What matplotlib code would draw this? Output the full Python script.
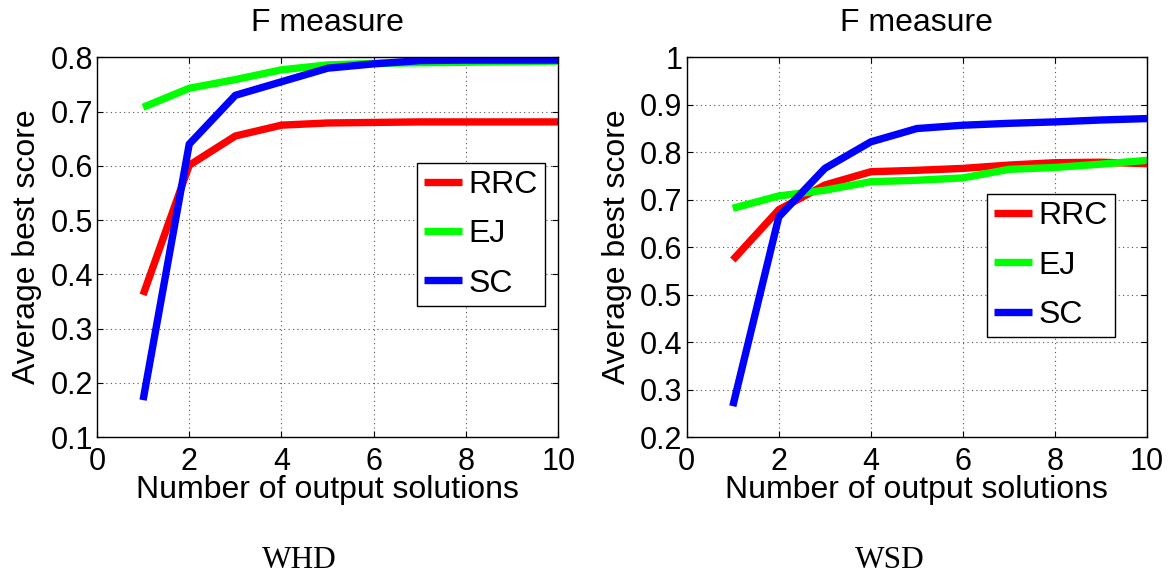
import numpy as np
import matplotlib
matplotlib.use("Agg")
import matplotlib.pyplot as plt

plt.rcParams['font.family'] = ['Liberation Sans', 'DejaVu Sans']

# number of output solutions
n_out = [1, 2, 3, 4, 5, 6, 7, 8, 9, 10]

# WHD panel
whd_rrc = [0.362, 0.601, 0.655, 0.675, 0.679, 0.680, 0.681, 0.681, 0.681, 0.681]
whd_ej = [0.708, 0.743, 0.759, 0.777, 0.786, 0.789, 0.790, 0.791, 0.792, 0.793]
whd_sc = [0.168, 0.640, 0.730, 0.755, 0.780, 0.788, 0.794, 0.795, 0.795, 0.795]

# WSD panel
wsd_rrc = [0.573, 0.679, 0.731, 0.759, 0.762, 0.766, 0.773, 0.778, 0.779, 0.776]
wsd_ej = [0.682, 0.708, 0.720, 0.738, 0.741, 0.746, 0.764, 0.768, 0.775, 0.783]
wsd_sc = [0.265, 0.664, 0.766, 0.822, 0.850, 0.857, 0.861, 0.864, 0.868, 0.871]

names = ['RRC', 'EJ', 'SC']
colors = ['#ff0000', '#00ff00', '#0000ff']

fig = plt.figure(figsize=(11.68, 5.77), dpi=100)
ax1 = fig.add_axes([0.083, 0.2426, 0.395, 0.658])
ax2 = fig.add_axes([0.588, 0.2426, 0.394, 0.658])


def panel(ax, series, ylim, yticks, ylabels, legend_anchor):
    for s, name, c in zip(series, names, colors):
        ax.plot(n_out, s, color=c, lw=5.3, label=name, solid_capstyle='butt')
    ax.set_xlim(0, 10)
    ax.set_ylim(*ylim)
    ax.set_xticks([0, 2, 4, 6, 8, 10])
    ax.set_yticks(yticks)
    ax.set_yticklabels(ylabels)
    ax.tick_params(direction='in', top=True, right=True, labelsize=22,
                   length=4, width=0.8)
    ax.tick_params(axis='x', pad=7)
    ax.tick_params(axis='y', pad=3)
    ax.grid(True, linestyle=(0, (1, 3)), color='#555555', lw=0.8)
    for sp in ax.spines.values():
        sp.set_linewidth(1.0)
    ax.set_title('F measure', fontsize=23, pad=19)
    ax.set_xlabel('Number of output solutions', fontsize=23, labelpad=-1.5)
    ax.set_ylabel('Average best score', fontsize=23, labelpad=6)
    ax.legend(loc='upper left', bbox_to_anchor=legend_anchor, fontsize=23,
              frameon=True, fancybox=False, edgecolor='black', framealpha=1,
              handlelength=1.2, handletextpad=0.2, borderpad=0.22,
              labelspacing=0.6, borderaxespad=0)


panel(ax1, [whd_rrc, whd_ej, whd_sc], (0.1, 0.8),
      [0.1, 0.2, 0.3, 0.4, 0.5, 0.6, 0.7, 0.8],
      ['0.1', '0.2', '0.3', '0.4', '0.5', '0.6', '0.7', '0.8'],
      (0.693, 0.721))
panel(ax2, [wsd_rrc, wsd_ej, wsd_sc], (0.2, 1.0),
      [0.2, 0.3, 0.4, 0.5, 0.6, 0.7, 0.8, 0.9, 1.0],
      ['0.2', '0.3', '0.4', '0.5', '0.6', '0.7', '0.8', '0.9', '1'],
      (0.652, 0.639))

fig.text(0.2565, 0.015, 'WHD', ha='center', va='baseline', fontsize=22.5,
         family='Liberation Serif')
fig.text(0.762, 0.015, 'WSD', ha='center', va='baseline', fontsize=22.5,
         family='Liberation Serif')

fig.savefig('out.png', dpi=100)
